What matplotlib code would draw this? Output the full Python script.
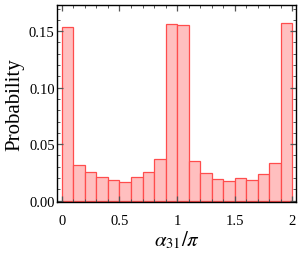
import numpy as np
import matplotlib
matplotlib.use("Agg")
import matplotlib.pyplot as plt
from matplotlib.ticker import MultipleLocator

# Data: histogram of alpha_31 / pi, bins of width 0.1
bin_left = [0.0, 0.1, 0.2, 0.3, 0.4, 0.5, 0.6, 0.7, 0.8, 0.9,
            1.0, 1.1, 1.2, 1.3, 1.4, 1.5, 1.6, 1.7, 1.8, 1.9]
probability = [0.154, 0.0313, 0.0254, 0.0212, 0.0179, 0.0161, 0.0212, 0.0254, 0.0366, 0.1566,
               0.1557, 0.0352, 0.0247, 0.0194, 0.0173, 0.0200, 0.0185, 0.0232, 0.0337, 0.1569]
bin_width = 0.1

x_ticks = [0, 0.5, 1, 1.5, 2]
x_tick_labels = ["0", "0.5", "1", "1.5", "2"]
y_ticks = [0.00, 0.05, 0.10, 0.15]
y_tick_labels = ["0.00", "0.05", "0.10", "0.15"]

plt.rcParams["font.family"] = ["Liberation Serif", "DejaVu Serif"]
plt.rcParams["mathtext.fontset"] = "stix"

fig = plt.figure(figsize=(2.99, 2.55), dpi=100)
ax = fig.add_axes([0.192, 0.204, 0.797, 0.772])

ax.bar(bin_left, probability, width=bin_width, align="edge",
       facecolor="#ffbfbf", edgecolor="#ff4d4d", linewidth=0.9)

ax.set_xlim(-0.039, 2.03)
ax.set_ylim(-0.0012, 0.173)

ax.set_xticks(x_ticks)
ax.set_xticklabels(x_tick_labels)
ax.set_yticks(y_ticks)
ax.set_yticklabels(y_tick_labels)
ax.xaxis.set_minor_locator(MultipleLocator(0.1))
ax.yaxis.set_minor_locator(MultipleLocator(0.01))

ax.tick_params(which="both", direction="in", top=True, right=True,
               labelsize=10.5, color="#555555")
ax.tick_params(which="major", length=4, width=0.9)
ax.tick_params(which="minor", length=2, width=0.7)
ax.tick_params(axis="x", pad=9)
ax.tick_params(axis="y", pad=2)

for s in ax.spines.values():
    s.set_linewidth(1.0)
    s.set_color("black")

ax.set_xlabel(r"$\alpha_{31}/\pi$", fontsize=15, labelpad=1)
ax.set_ylabel("Probability", fontsize=15, labelpad=3)

fig.savefig("out.png", dpi=100)
